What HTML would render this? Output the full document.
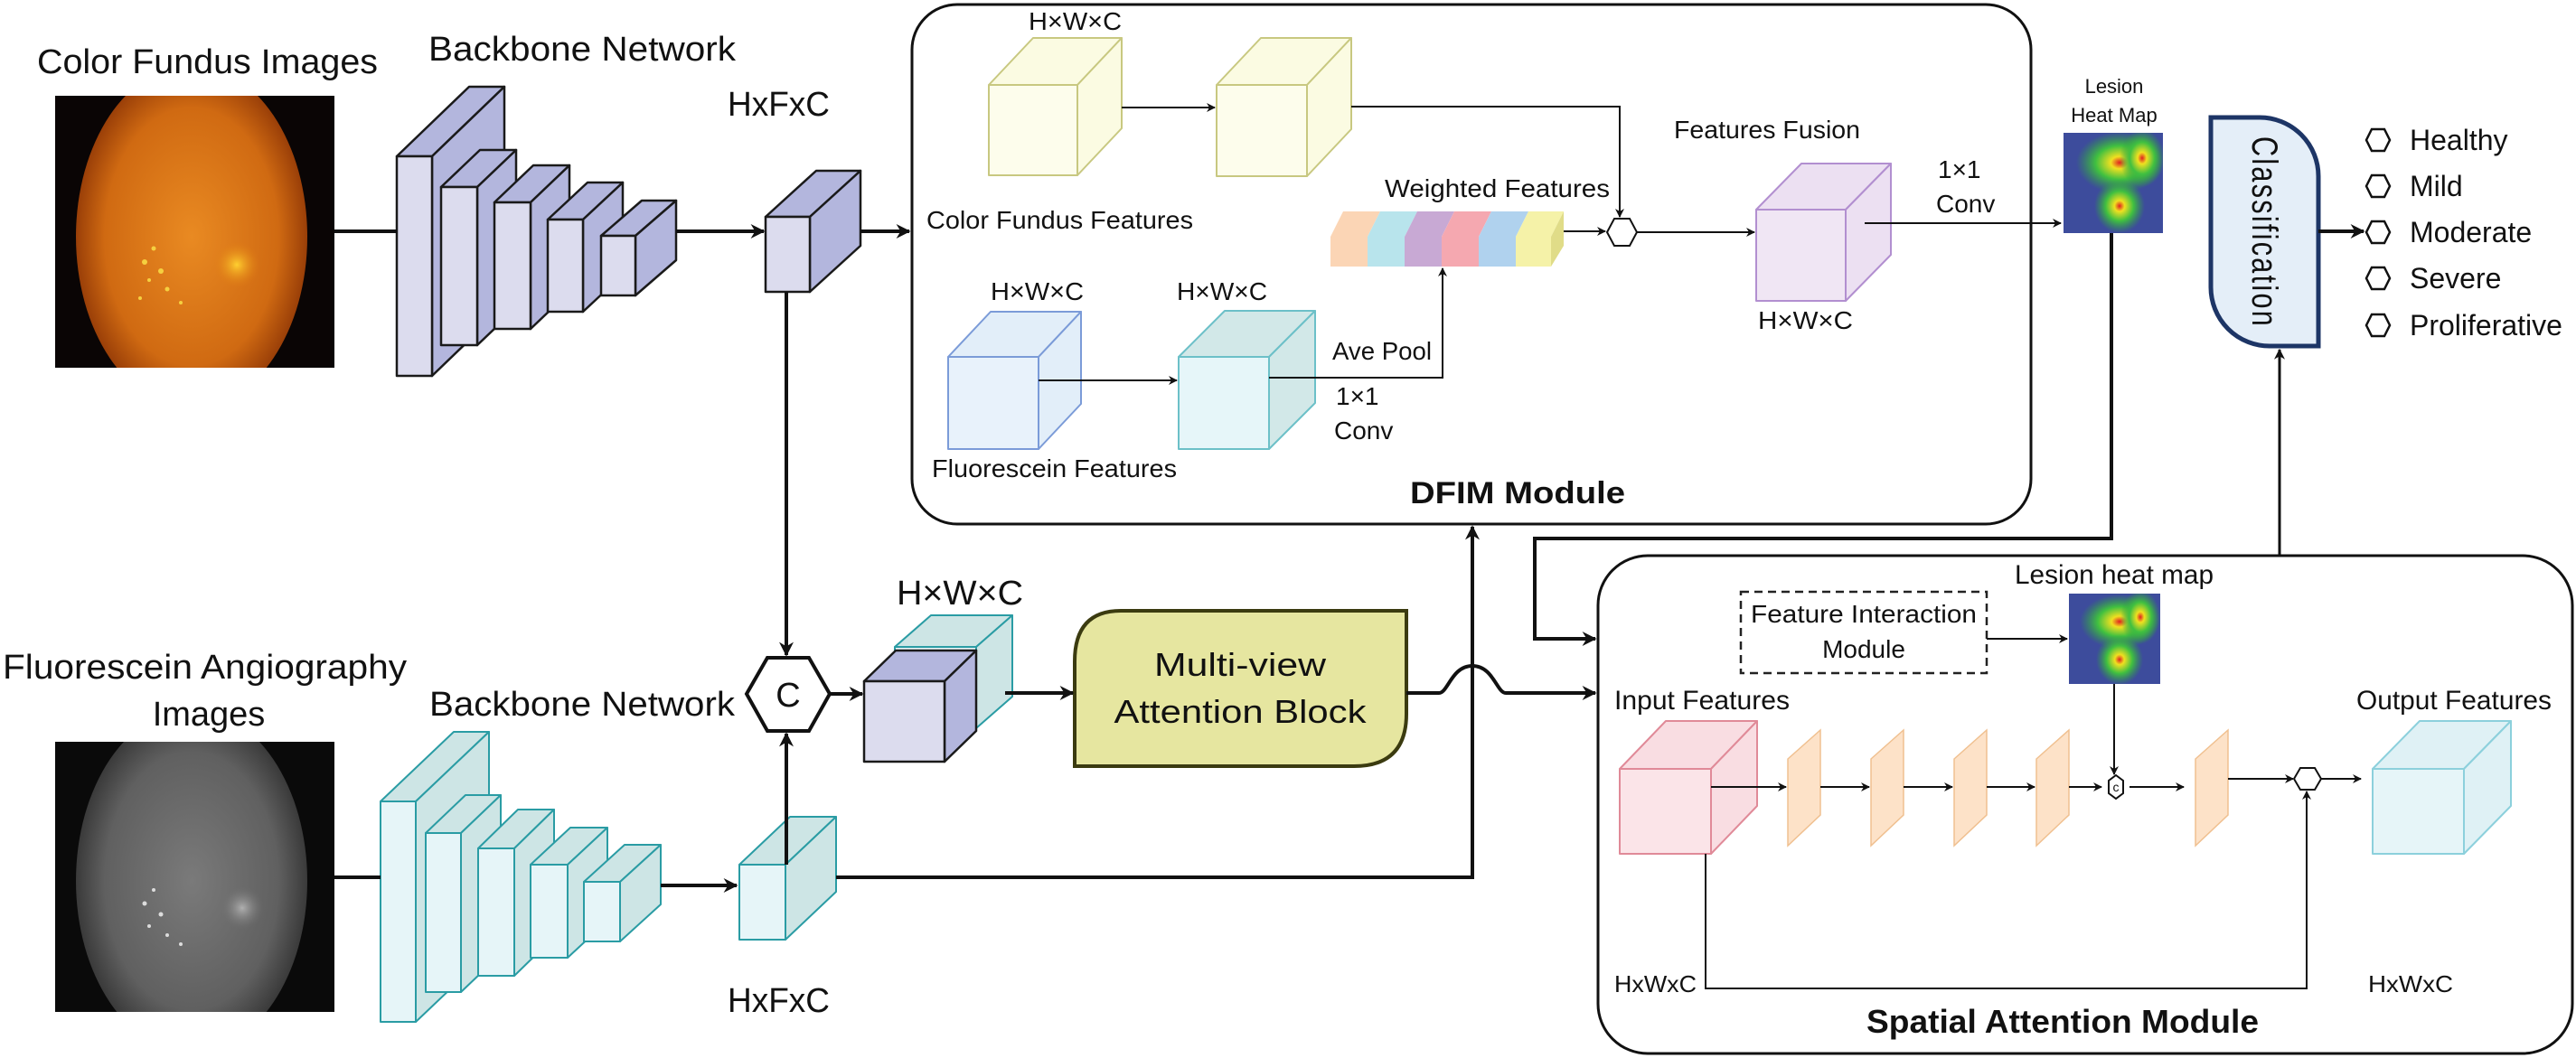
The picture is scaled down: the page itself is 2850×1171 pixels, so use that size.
<!DOCTYPE html>
<html><head><meta charset="utf-8"><style>html,body{margin:0;padding:0;background:#fff}svg{display:block}text{font-family:"Liberation Sans",sans-serif;fill:#111}</style></head>
<body>
<svg width="2850" height="1171" viewBox="0 0 2850 1171" xmlns="http://www.w3.org/2000/svg">
<defs>
<marker id="a" viewBox="0 0 10 10" refX="9" refY="5" markerWidth="4" markerHeight="4" orient="auto" markerUnits="strokeWidth"><path d="M0,0 L10,5 L0,10 L3,5 Z" fill="#111"/></marker>
<marker id="b" viewBox="0 0 10 10" refX="9" refY="5" markerWidth="5" markerHeight="5" orient="auto" markerUnits="strokeWidth"><path d="M0,0 L10,5 L0,10 L3,5 Z" fill="#111"/></marker>
<radialGradient id="fo" cx="0.5" cy="0.5" r="0.5"><stop offset="0" stop-color="#e98a22"/><stop offset="0.75" stop-color="#d06a12"/><stop offset="1" stop-color="#9a3f08"/></radialGradient>
<radialGradient id="fg" cx="0.5" cy="0.5" r="0.5"><stop offset="0" stop-color="#7a7a7a"/><stop offset="0.75" stop-color="#606060"/><stop offset="1" stop-color="#3a3a3a"/></radialGradient>
<radialGradient id="od" cx="0.5" cy="0.5" r="0.5"><stop offset="0" stop-color="#ffd030"/><stop offset="1" stop-color="#e07a10" stop-opacity="0"/></radialGradient>
<radialGradient id="odg" cx="0.5" cy="0.5" r="0.5"><stop offset="0" stop-color="#b0b0b0"/><stop offset="1" stop-color="#707070" stop-opacity="0"/></radialGradient>
<radialGradient id="hb" cx="0.5" cy="0.5" r="0.5"><stop offset="0" stop-color="#e02020"/><stop offset="0.2" stop-color="#f0e020"/><stop offset="0.55" stop-color="#40c040"/><stop offset="1" stop-color="#30a040" stop-opacity="0"/></radialGradient>
<clipPath id="c1"><rect x="61" y="106" width="309" height="301"/></clipPath>
<clipPath id="c2"><rect x="61" y="821" width="309" height="299"/></clipPath>
<clipPath id="h1"><rect x="2283" y="147" width="110" height="111"/></clipPath>
<clipPath id="h2"><rect x="2289" y="657" width="101" height="100"/></clipPath>
</defs>

<!-- fundus images -->
<rect x="61" y="106" width="309" height="301" fill="#0a0505"/>
<g clip-path="url(#c1)"><ellipse cx="212" cy="262" rx="128" ry="190" fill="url(#fo)"/><circle cx="262" cy="293" r="26" fill="url(#od)"/>
<g fill="#f5d040"><circle cx="160" cy="290" r="3"/><circle cx="170" cy="275" r="2.5"/><circle cx="178" cy="300" r="3"/><circle cx="165" cy="310" r="2"/><circle cx="185" cy="320" r="2.5"/><circle cx="155" cy="330" r="2"/><circle cx="200" cy="335" r="2"/></g></g>
<rect x="61" y="821" width="309" height="299" fill="#0a0a0a"/>
<g clip-path="url(#c2)"><ellipse cx="212" cy="975" rx="128" ry="190" fill="url(#fg)"/><circle cx="268" cy="1005" r="24" fill="url(#odg)"/>
<g fill="#dcdcdc"><circle cx="160" cy="1000" r="2.5"/><circle cx="170" cy="985" r="2"/><circle cx="178" cy="1012" r="2.5"/><circle cx="165" cy="1025" r="2"/><circle cx="185" cy="1035" r="2"/><circle cx="200" cy="1045" r="2"/></g></g>

<!-- top backbone -->
<g stroke="#1a1a1a" stroke-width="2.5" stroke-linejoin="round">
<g fill="#b3b6dd"><polygon points="439,173 519,96 558,96 478,173"/><polygon points="478,173 558,96 558,339 478,416"/></g><rect x="439" y="173" width="39" height="243" fill="#dcdcee"/>
<g fill="#b3b6dd"><polygon points="488,207 531,166 571,166 528,207"/><polygon points="528,207 571,166 571,341 528,382"/></g><rect x="488" y="207" width="40" height="175" fill="#dcdcee"/>
<g fill="#b3b6dd"><polygon points="547,224 590,183 630,183 587,224"/><polygon points="587,224 630,183 630,323 587,364"/></g><rect x="547" y="224" width="40" height="140" fill="#dcdcee"/>
<g fill="#b3b6dd"><polygon points="606,243 650,202 689,202 645,243"/><polygon points="645,243 689,202 689,304 645,345"/></g><rect x="606" y="243" width="39" height="102" fill="#dcdcee"/>
<g fill="#b3b6dd"><polygon points="665,261 710,222 748,222 703,261"/><polygon points="703,261 748,222 748,288 703,327"/></g><rect x="665" y="261" width="38" height="66" fill="#dcdcee"/>
<g fill="#b3b6dd"><polygon points="847,240 903,189 952,189 896,240"/><polygon points="896,240 952,189 952,272 896,323"/></g><rect x="847" y="240" width="49" height="83" fill="#dcdcee"/>
</g>
<!-- bottom backbone -->
<g stroke="#2a9ca4" stroke-width="2" stroke-linejoin="round">
<g fill="#cde5e5"><polygon points="421,887 502,810 541,810 460,887"/><polygon points="460,887 541,810 541,1054 460,1131"/></g><rect x="421" y="887" width="39" height="244" fill="#e6f5f8"/>
<g fill="#cde5e5"><polygon points="471,922 515,880 554,880 510,922"/><polygon points="510,922 554,880 554,1056 510,1098"/></g><rect x="471" y="922" width="39" height="176" fill="#e6f5f8"/>
<g fill="#cde5e5"><polygon points="529,939 573,896 613,896 569,939"/><polygon points="569,939 613,896 613,1037 569,1080"/></g><rect x="529" y="939" width="40" height="141" fill="#e6f5f8"/>
<g fill="#cde5e5"><polygon points="587,957 631,916 672,916 628,957"/><polygon points="628,957 672,916 672,1019 628,1060"/></g><rect x="587" y="957" width="41" height="103" fill="#e6f5f8"/>
<g fill="#cde5e5"><polygon points="646,976 691,935 731,935 686,976"/><polygon points="686,976 731,935 731,1001 686,1042"/></g><rect x="646" y="976" width="40" height="66" fill="#e6f5f8"/>
<g fill="#cde5e5"><polygon points="818,957 874,904 925,904 869,957"/><polygon points="869,957 925,904 925,987 869,1040"/></g><rect x="818" y="957" width="51" height="83" fill="#e6f5f8"/>
</g>

<!-- stacked cube -->
<g stroke="#2a9ca4" stroke-width="2" stroke-linejoin="round"><g fill="#cde5e5"><polygon points="990,716 1030,681 1120,681 1080,716"/><polygon points="1080,716 1120,681 1120,771 1080,806"/></g><rect x="990" y="716" width="90" height="90" fill="#e6f5f8"/></g>
<g stroke="#1a1a1a" stroke-width="2.5" stroke-linejoin="round"><g fill="#b3b6dd"><polygon points="956,754 991,720 1080,720 1045,754"/><polygon points="1045,754 1080,720 1080,809 1045,843"/></g><rect x="956" y="754" width="89" height="89" fill="#dcdcee"/></g>

<!-- hexagon C -->
<polygon points="826,768 849,728 895,728 918,768 895,809 849,809" fill="#fff" stroke="#111" stroke-width="4"/>
<text x="872" y="782" font-size="38" text-anchor="middle">C</text>

<!-- multi-view -->
<path d="M1240,676 H1556 V790 Q1556,848 1498,848 H1189 V732 Q1189,676 1240,676 Z" fill="#e6e6a0" stroke="#3b3b10" stroke-width="4"/>
<text x="1372" y="748" font-size="36" text-anchor="middle" textLength="190" lengthAdjust="spacingAndGlyphs">Multi-view</text>
<text x="1372" y="800" font-size="36" text-anchor="middle" textLength="279" lengthAdjust="spacingAndGlyphs">Attention Block</text>

<!-- DFIM -->
<rect x="1009" y="5" width="1238" height="575" rx="50" fill="none" stroke="#111" stroke-width="3"/>
<g stroke="#c8c880" stroke-width="2" stroke-linejoin="round">
<g fill="#fbfbe2"><polygon points="1094,94 1143,42 1241,42 1192,94"/><polygon points="1192,94 1241,42 1241,142 1192,194"/></g><rect x="1094" y="94" width="98" height="100" fill="#fdfdec"/>
<g fill="#fbfbe2"><polygon points="1346,94 1395,42 1495,42 1446,94"/><polygon points="1446,94 1495,42 1495,143 1446,195"/></g><rect x="1346" y="94" width="100" height="101" fill="#fdfdec"/>
</g>
<g stroke="#7b9bd8" stroke-width="2" stroke-linejoin="round"><g fill="#e2eef9"><polygon points="1049,395 1096,345 1196,345 1149,395"/><polygon points="1149,395 1196,345 1196,447 1149,497"/></g><rect x="1049" y="395" width="100" height="102" fill="#e8f2fb"/></g>
<g stroke="#6cc0c8" stroke-width="2" stroke-linejoin="round"><g fill="#d2e8e8"><polygon points="1304,395 1355,344 1455,344 1404,395"/><polygon points="1404,395 1455,344 1455,446 1404,497"/></g><rect x="1304" y="395" width="100" height="102" fill="#e6f6f9"/></g>
<g stroke="#b28fd0" stroke-width="2" stroke-linejoin="round"><g fill="#ece0f2"><polygon points="1943,232 1993,181 2092,181 2042,232"/><polygon points="2042,232 2092,181 2092,282 2042,333"/></g><rect x="1943" y="232" width="99" height="101" fill="#f0e6f4"/></g>
<!-- weighted strip -->
<g>
<polygon points="1472,295 1472,262 1486,234 1527,234 1513,262 1513,295" fill="#fbd5b5"/>
<polygon points="1513,295 1513,262 1527,234 1568,234 1554,262 1554,295" fill="#b8e4ec"/>
<polygon points="1554,295 1554,262 1568,234 1609,234 1595,262 1595,295" fill="#c8a9d4"/>
<polygon points="1595,295 1595,262 1609,234 1650,234 1636,262 1636,295" fill="#f5a8b0"/>
<polygon points="1636,295 1636,262 1650,234 1691,234 1677,262 1677,295" fill="#b0d2ee"/>
<polygon points="1677,295 1677,262 1691,234 1730,234 1716,262 1716,295" fill="#f5f2a8"/>
<polygon points="1716,295 1716,262 1730,234 1730,272" fill="#e0dc88"/>
</g>
<polygon points="1778,257 1786,242 1803,242 1811,257 1803,272 1786,272" fill="#fff" stroke="#111" stroke-width="2"/>
<g stroke="#111" stroke-width="2" fill="none">
<path d="M1241,119 H1344" marker-end="url(#b)"/>
<path d="M1495,118 H1792 V240" marker-end="url(#b)"/>
<path d="M1149,421 H1302" marker-end="url(#b)"/>
<path d="M1404,418 H1596 V297" marker-end="url(#b)"/>
<path d="M1730,256 H1776" marker-end="url(#b)"/>
<path d="M1811,257 H1941" marker-end="url(#b)"/>
<path d="M2063,247 H2280" marker-end="url(#b)"/>
</g>
<g font-size="28">
<text x="1138" y="33" textLength="103" lengthAdjust="spacingAndGlyphs">H×W×C</text>
<text x="1025" y="253" textLength="295" lengthAdjust="spacingAndGlyphs">Color Fundus Features</text>
<text x="1096" y="332" textLength="103" lengthAdjust="spacingAndGlyphs">H×W×C</text>
<text x="1302" y="332" textLength="100" lengthAdjust="spacingAndGlyphs">H×W×C</text>
<text x="1031" y="528" textLength="271" lengthAdjust="spacingAndGlyphs">Fluorescein Features</text>
<text x="1474" y="398" textLength="110" lengthAdjust="spacingAndGlyphs">Ave Pool</text>
<text x="1478" y="448">1×1</text>
<text x="1476" y="486">Conv</text>
<text x="1532" y="218" textLength="249" lengthAdjust="spacingAndGlyphs">Weighted Features</text>
<text x="1852" y="153" textLength="206" lengthAdjust="spacingAndGlyphs">Features Fusion</text>
<text x="2144" y="197">1×1</text>
<text x="2142" y="235">Conv</text>
<text x="1945" y="364" textLength="105" lengthAdjust="spacingAndGlyphs">H×W×C</text>
</g>
<text x="1560" y="557" font-size="34" font-weight="bold" textLength="238" lengthAdjust="spacingAndGlyphs">DFIM Module</text>

<!-- heatmap 1 -->
<rect x="2283" y="147" width="110" height="111" fill="#3d4c9c"/>
<g clip-path="url(#h1)"><ellipse cx="2345" cy="180" rx="48" ry="34" fill="url(#hb)"/><ellipse cx="2370" cy="175" rx="25" ry="32" fill="url(#hb)"/><ellipse cx="2345" cy="228" rx="28" ry="30" fill="url(#hb)"/></g>
<text x="2339" y="103" font-size="22" text-anchor="middle">Lesion</text>
<text x="2339" y="135" font-size="22" text-anchor="middle">Heat Map</text>

<!-- classification -->
<path d="M2446,130 H2500 A65,65 0 0 1 2565,195 V383 H2511 A65,65 0 0 1 2446,318 Z" fill="#e4eef8" stroke="#1d3566" stroke-width="5"/>
<text x="2505" y="257" font-size="40" text-anchor="middle" dominant-baseline="central" transform="rotate(90 2505 257)" textLength="212" lengthAdjust="spacingAndGlyphs" letter-spacing="3">Classification</text>
<g fill="#fff" stroke="#111" stroke-width="2.5">
<polygon points="2618,155 2624,143 2638,143 2644,155 2638,167 2624,167"/>
<polygon points="2618,206 2624,194 2638,194 2644,206 2638,218 2624,218"/>
<polygon points="2618,257 2624,245 2638,245 2644,257 2638,269 2624,269"/>
<polygon points="2618,308 2624,296 2638,296 2644,308 2638,320 2624,320"/>
<polygon points="2618,360 2624,348 2638,348 2644,360 2638,372 2624,372"/>
</g>
<g font-size="32">
<text x="2666" y="166">Healthy</text>
<text x="2666" y="217">Mild</text>
<text x="2666" y="268">Moderate</text>
<text x="2666" y="319">Severe</text>
<text x="2666" y="371">Proliferative</text>
</g>

<!-- SAM -->
<rect x="1768" y="615" width="1078" height="551" rx="55" fill="none" stroke="#111" stroke-width="3"/>
<rect x="1926" y="655" width="272" height="90" fill="none" stroke="#222" stroke-width="2.5" stroke-dasharray="9,6"/>
<text x="2062" y="689" font-size="28" text-anchor="middle" textLength="250" lengthAdjust="spacingAndGlyphs">Feature Interaction</text>
<text x="2062" y="728" font-size="28" text-anchor="middle">Module</text>
<text x="2229" y="646" font-size="30" textLength="220" lengthAdjust="spacingAndGlyphs">Lesion heat map</text>
<rect x="2289" y="657" width="101" height="100" fill="#3d4c9c"/>
<g clip-path="url(#h2)"><ellipse cx="2345" cy="688" rx="44" ry="30" fill="url(#hb)"/><ellipse cx="2368" cy="683" rx="22" ry="30" fill="url(#hb)"/><ellipse cx="2345" cy="730" rx="26" ry="28" fill="url(#hb)"/></g>
<g stroke="#e08a98" stroke-width="2" stroke-linejoin="round"><g fill="#f9dde2"><polygon points="1792,851 1843,798 1944,798 1893,851"/><polygon points="1893,851 1944,798 1944,892 1893,945"/></g><rect x="1792" y="851" width="101" height="94" fill="#fbe4e8"/></g>
<g stroke="#8cd0dc" stroke-width="2" stroke-linejoin="round"><g fill="#dff1f5"><polygon points="2625,851 2677,798 2778,798 2726,851"/><polygon points="2726,851 2778,798 2778,892 2726,945"/></g><rect x="2625" y="851" width="101" height="94" fill="#e6f5f8"/></g>
<g fill="#fde2c8" stroke="#f0c090" stroke-width="1.5">
<polygon points="1978,840 2014,808 2014,902 1978,936"/>
<polygon points="2070,840 2106,808 2106,902 2070,936"/>
<polygon points="2162,840 2198,808 2198,902 2162,936"/>
<polygon points="2253,840 2289,808 2289,902 2253,936"/>
<polygon points="2429,840 2465,808 2465,902 2429,936"/>
</g>
<g stroke="#111" stroke-width="2" fill="none">
<path d="M2198,707 H2287" marker-end="url(#b)"/>
<path d="M2339,757 V857" marker-end="url(#b)"/>
<path d="M1893,871 H1976" marker-end="url(#b)"/>
<path d="M2014,871 H2068" marker-end="url(#b)"/>
<path d="M2106,871 H2160" marker-end="url(#b)"/>
<path d="M2198,871 H2251" marker-end="url(#b)"/>
<path d="M2289,871 H2325" marker-end="url(#b)"/>
<path d="M2356,871 H2416" marker-end="url(#b)"/>
<path d="M2465,862 H2537" marker-end="url(#b)"/>
<path d="M2568,862 H2612" marker-end="url(#b)"/>
<path d="M1887,945 V1094 H2552 V876" marker-end="url(#b)"/>
</g>
<polygon points="2341,858 2349,864 2349,878 2341,884 2333,878 2333,864" fill="#fff" stroke="#111" stroke-width="2"/>
<text x="2341" y="876" font-size="14" text-anchor="middle">c</text>
<polygon points="2538,862 2545,850 2561,850 2568,862 2561,874 2545,874" fill="#fff" stroke="#111" stroke-width="2"/>
<text x="1786" y="785" font-size="30" textLength="194" lengthAdjust="spacingAndGlyphs">Input Features</text>
<text x="2607" y="785" font-size="30" textLength="216" lengthAdjust="spacingAndGlyphs">Output Features</text>
<text x="1786" y="1098" font-size="26" textLength="91" lengthAdjust="spacingAndGlyphs">HxWxC</text>
<text x="2620" y="1098" font-size="26" textLength="94" lengthAdjust="spacingAndGlyphs">HxWxC</text>
<text x="2065" y="1143" font-size="36" font-weight="bold" textLength="434" lengthAdjust="spacingAndGlyphs">Spatial Attention Module</text>

<!-- main connectors -->
<g stroke="#111" stroke-width="4" fill="none">
<path d="M370,256 H439"/>
<path d="M748,256 H845" marker-end="url(#a)"/>
<path d="M952,256 H1006" marker-end="url(#a)"/>
<path d="M870,323 V725" marker-end="url(#a)"/>
<path d="M370,971 H421"/>
<path d="M731,980 H815" marker-end="url(#a)"/>
<path d="M870,957 V812" marker-end="url(#a)"/>
<path d="M918,768 H954" marker-end="url(#a)"/>
<path d="M1112,767 H1187" marker-end="url(#a)"/>
<path d="M1556,767 H1592 C1602,767 1606,737 1629,737 C1652,737 1656,767 1666,767 H1765" marker-end="url(#a)"/>
<path d="M925,971 H1629 V583" marker-end="url(#a)"/>
<path d="M2336,258 V596 H1698 V707 H1765" marker-end="url(#a)"/>
<path d="M2565,256 H2615" marker-end="url(#a)"/>
</g>
<path d="M2522,615 V387" stroke="#111" stroke-width="3" fill="none" marker-end="url(#a)"/>

<!-- left labels -->
<g font-size="38">
<text x="41" y="81" textLength="377" lengthAdjust="spacingAndGlyphs">Color Fundus Images</text>
<text x="474" y="67" textLength="340" lengthAdjust="spacingAndGlyphs">Backbone Network</text>
<text x="805" y="128" textLength="113" lengthAdjust="spacingAndGlyphs">HxFxC</text>
<text x="3" y="751" textLength="447" lengthAdjust="spacingAndGlyphs">Fluorescein Angiography</text>
<text x="231" y="803" text-anchor="middle">Images</text>
<text x="475" y="792" textLength="338" lengthAdjust="spacingAndGlyphs">Backbone Network</text>
<text x="805" y="1120" textLength="113" lengthAdjust="spacingAndGlyphs">HxFxC</text>
<text x="992" y="669" textLength="140" lengthAdjust="spacingAndGlyphs">H×W×C</text>
</g>
</svg>
</body></html>
